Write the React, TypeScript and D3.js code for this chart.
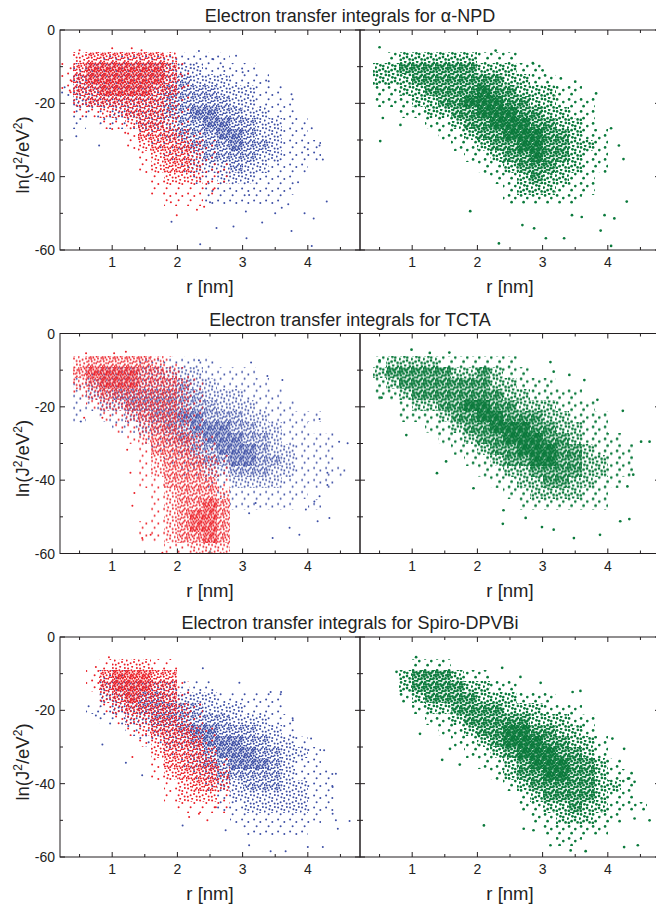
import * as d3 from 'd3';

// Three pairs of scatter panels: ln(J^2/eV^2) against r [nm].
// Point clouds are too dense to list point by point, so each cloud is kept as a
// density grid (cells 0.2 nm wide from r = 0.2 and 3 units tall
// from ln = 0 downwards; '.' empty, 1 sparse ... 4 saturated) plus its stray points.

const W = 656;
const H = 906;
const PANEL_W = 300;
const PANEL_H = 220;
const LEFT_X = 60;
const RIGHT_X = 360;
const ROW_TOPS = [30, 333.5, 637];

const R_RANGE: [number, number] = [0.2, 4.8];
const LN_RANGE: [number, number] = [-60, 0];
const X_MAJOR = [1, 2, 3, 4];
const X_MINOR = [0.5, 1.5, 2.5, 3.5, 4.5];
const Y_MAJOR = [0, -20, -40, -60];
const Y_MINOR = [-10, -30, -50];
const CELL_R = 0.2;
const CELL_LN = 3;

const TITLES = [
  'Electron transfer integrals for α-NPD',
  'Electron transfer integrals for TCTA',
  'Electron transfer integrals for Spiro-DPVBi',
];

const NPD_BLUE = [
  '.......................',
  '.......................',
  '...1111111111..........',
  '.12222222221111........',
  '.222222223222111.......',
  '12222222333322211......',
  '.22222223333322111.....',
  '.11122223344332211.....',
  '.1.1112223344332211....',
  '......1123334432211....',
  '.......1123334332111...',
  '........112333322111...',
  '.........1222322111....',
  '..........11222111.....',
  '...........1111111.....',
  '...........111111......',
];
const NPD_RED = [
  '.......................',
  '.......................',
  '.23333332..............',
  '1344444431.............',
  '1344444431.............',
  '1334444331.............',
  '.233333321.............',
  '.112233321.............',
  '...1123321.............',
  '.....133321............',
  '.....1233321...........',
  '......123321...........',
  '......1233211..........',
  '.......122211..........',
  '.......11111...........',
  '........111............',
];
const NPD_GREEN = [
  '.......................',
  '.......................',
  '..1222222111...........',
  '.2233333322211.........',
  '.22233333332211........',
  '.1122333343322211......',
  '.11122334443322111.....',
  '...112233444332211.....',
  '.....1123344433221.....',
  '......1123344433211....',
  '.......112334433221....',
  '........11233433211....',
  '.........1123332211....',
  '..........11232211.....',
  '...........1222111.....',
  '...........111111......',
];

const TCTA_BLUE = [
  '.......................',
  '.......................',
  '......111111...........',
  '..1222222221111........',
  '.122222223221111.......',
  '.1223333333222111......',
  '.11223333333222111.....',
  '.1.11223344333221111...',
  '....112233444332211....',
  '......112334443321111..',
  '.......11233444322111..',
  '........1123344332111..',
  '.........1122333221111.',
  '...........1122221111..',
  '............1111111....',
  '.............11111.1...',
];
const TCTA_RED = [
  '.......................',
  '.......................',
  '.23333321..............',
  '.344443321.............',
  '.2344433321............',
  '.1233333321............',
  '..122333321............',
  '...11233321............',
  '....1123321............',
  '.....1233321...........',
  '......133321...........',
  '......1233321..........',
  '......1233321..........',
  '......1133331..........',
  '.......123332..........',
  '.......123343..........',
  '.......123443..........',
  '......1123443..........',
  '......1123343..........',
  '........11222..........',
];
const TCTA_GREEN = [
  '.......................',
  '.......................',
  '.12222111111...........',
  '.233333223211..........',
  '.12333333322111........',
  '.1123333333221111......',
  '...122334433222111.....',
  '...1112334433322111....',
  '.....11233444332211....',
  '......11233444332111...',
  '.......11233444332111..',
  '........1123344332211..',
  '.........112233332211..',
  '..........1122332211...',
  '...........11222211....',
  '............1111111....',
];

const SPIRO_BLUE = [
  '.......................',
  '.......................',
  '.......................',
  '...11..................',
  '...222222111...........',
  '...22233222211111......',
  '..112233333222111......',
  '...112233333322211.....',
  '.....1122344333221.....',
  '......1122344433221....',
  '........112344433221...',
  '.........12334443211...',
  '..........12333332111..',
  '...........1223332211..',
  '............122222211..',
  '............112222211..',
  '.............1111111...',
  '..............11111....',
];
const SPIRO_RED = [
  '.......................',
  '.......................',
  '...122211..............',
  '..1344433..............',
  '..13444331.............',
  '...2343331.............',
  '...12333321............',
  '....1223321............',
  '.....1233321...........',
  '......123331...........',
  '.......23332...........',
  '.......133331..........',
  '.......123332..........',
  '........12332..........',
  '........12221..........',
  '.........1111..........',
];
const SPIRO_GREEN = [
  '.......................',
  '.......................',
  '....111................',
  '...2333211.............',
  '...233332211...........',
  '...123333222111........',
  '....1223333222111......',
  '.....1123333322211.....',
  '......112334433221.....',
  '.......112344433221....',
  '........11234443321....',
  '.........11234443321...',
  '..........12334433211..',
  '...........1233333221..',
  '............123333211..',
  '............1122322111.',
  '.............1122211...',
  '..............11111....',
  '...............11......',
];

// stray points outside the dense parts, [r, ln]
const NPD_BLUE_STRAY: [number, number][] = [
  [2.33, -5.7], [2.9, -7], [2.55, -8], [2.7, -10], [3.0, -11.5], [3.4, -14], [3.75, -17.5],
  [0.45, -29], [0.8, -31.5], [1.91, -52.3], [2.35, -58.4], [2.5, -47], [2.6, -54], [2.86, -53.6],
  [3.05, -49.5], [3.06, -56.8], [3.1, -45], [3.3, -52.5], [3.5, -50], [3.6, -48.5], [3.7, -47.5],
  [3.85, -41.5], [3.75, -54.8], [3.95, -50], [4.0, -32.5], [4.06, -26.8], [4.09, -51.4],
  [4.18, -31.5], [4.23, -35.3], [4.29, -46.8], [4.06, -58.9],
];
const NPD_RED_STRAY: [number, number][] = [
  [0.38, -14], [0.35, -16.5], [0.5, -5.5], [1.0, -5], [1.3, -5], [1.45, -5.5], [1.0, -27],
  [1.2, -28], [2.05, -12], [2.1, -15.5], [1.99, -50.5], [2.3, -49], [2.41, -48.2], [2.47, -41.4],
  [2.55, -43.5], [1.9, -47],
];
const NPD_GREEN_STRAY: [number, number][] = [
  [0.5, -4.7], [0.51, -30.3], [0.55, -24], [0.82, -25.9], [1.89, -49.4], [2.28, -5.6],
  [2.33, -58.2], [2.69, -53.2], [2.87, -54.1], [3.05, -56.8], [3.33, -56.8], [3.45, -50.5],
  [3.6, -51], [3.89, -54.7], [3.95, -50.5], [4.1, -51.4], [4.05, -58.9], [4.29, -46.8],
  [4.24, -35.2], [4.17, -31.5], [4.05, -26.8], [3.82, -17.3], [3.5, -14.1], [3.28, -13.2],
  [2.85, -9], [3.0, -11],
];

const TCTA_BLUE_STRAY: [number, number][] = [
  [0.52, -24], [2.33, -7.3], [3.13, -7.9], [3.38, -11.6], [3.61, -12.7], [4.18, -23.3],
  [4.48, -29.5], [4.61, -29.9], [4.3, -38], [4.3, -41.3], [4.18, -44.4], [4.1, -45.8],
  [3.97, -48], [4.33, -50.3], [4.15, -51.2], [3.87, -54.9], [3.46, -55.8], [3.72, -53],
  [3.1, -49], [3.2, -46.2],
];
const TCTA_RED_STRAY: [number, number][] = [
  [0.6, -5.4], [1.03, -5.4], [1.21, -5], [0.57, -23], [0.85, -23], [1.23, -31.7], [1.28, -38],
  [1.34, -43.5], [1.31, -47], [1.46, -55.8], [1.59, -54.9], [1.77, -59.8],
];
const TCTA_GREEN_STRAY: [number, number][] = [
  [0.5, -7.3], [0.53, -17.5], [0.99, -4.4], [1.27, -5.3], [1.57, -5.2], [0.91, -27.7],
  [1.38, -38.1], [1.52, -34.9], [1.94, -42.2], [2.4, -48.2], [2.39, -51.9], [2.74, -50.3],
  [2.99, -52.8], [3.17, -53.5], [3.48, -55.8], [3.88, -54.9], [4.19, -51.2], [4.33, -50.6],
  [4.3, -41.7], [4.39, -38.5], [4.51, -29.5], [4.64, -29.5], [4.23, -21.1], [3.84, -18.1],
  [3.64, -12.7], [3.41, -11.3], [3.17, -10.4], [3.12, -7.8],
];

const SPIRO_BLUE_STRAY: [number, number][] = [
  [0.75, -21.4], [0.85, -29.3], [1.21, -34.3], [1.46, -37.7], [2.39, -8.5], [2.95, -12.5],
  [3.43, -15], [3.59, -15], [3.77, -22.7], [4.05, -27.7], [4.25, -30.9], [4.43, -37.3],
  [4.38, -40.9], [4.38, -48.2], [4.43, -50], [4.64, -50.2], [4.46, -52.3], [4.23, -57.3],
  [4.0, -57.3], [3.66, -58.4], [3.43, -58.4], [3.1, -56.8], [2.74, -52.7], [2.08, -51.4],
];
const SPIRO_RED_STRAY: [number, number][] = [
  [0.95, -5.5], [0.75, -8.2], [1.31, -32.7], [2.18, -49.1], [2.33, -48.2], [2.46, -50],
  [2.59, -46.4], [2.77, -38.2],
];
const SPIRO_GREEN_STRAY: [number, number][] = [
  [0.76, -9.5], [1.06, -5.5], [1.12, -26.4], [1.46, -33.5], [1.58, -30.5], [1.73, -34.8],
  [2.1, -51.4], [2.38, -8.4], [2.66, -10.9], [2.97, -12.5], [3.46, -15], [3.58, -14.7],
  [4.07, -27.7], [4.25, -30.5], [4.31, -38.6], [4.41, -39.5], [4.41, -49.5], [4.64, -50],
  [4.46, -56.8], [4.25, -57.3], [3.66, -58.4], [3.43, -58.2], [3.12, -56.8], [2.71, -52.3],
  [2.86, -52.7],
];

type Kind = 'blue' | 'red' | 'green';

const STYLES: Record<Kind, { color: string; r: number; tint: number[]; shift: [number, number]; specks: boolean }> = {
  blue: { color: '#3d4fa5', r: 1.0, tint: [0, 0, 0, 0, 0.12], shift: [0, 0], specks: false },
  red: { color: '#eb1f27', r: 1.0, tint: [0, 0, 0, 0, 0.15], shift: [6, 5], specks: false },
  green: { color: '#0b7a3c', r: 1.35, tint: [0, 0, 0, 0.1, 0.55], shift: [3, 7], specks: true },
};

// texture of one 12px tile, ordered so that every prefix is spread out
const TILE = 12;
const SPOTS: [number, number][] = [
  [2.1, 2.4], [8.3, 5.1], [4.6, 9.2], [10.6, 10.4], [6.2, 0.8],
  [0.7, 6.6], [10.9, 1.9], [5.4, 4.3], [1.8, 10.8], [8.0, 8.1], [3.3, 6.9],
  [7.5, 11.2], [11.3, 7.4], [4.1, 0.5], [0.6, 3.9], [9.6, 3.4], [2.9, 4.5], [6.6, 6.1], [1.2, 8.5], [9.2, 11.8],
  [5.7, 8.4], [11.8, 5.0], [3.9, 11.6], [7.4, 2.9], [0.2, 0.9], [6.9, 9.7], [10.2, 8.9], [3.6, 2.9],
  [8.8, 0.4], [1.4, 5.3], [5.0, 10.8], [11.5, 11.0],
];
const SPECKS: [number, number][] = [[4.2, 2.7], [9.8, 7.0], [1.5, 9.6]];
const LEVEL_DOTS = [0, 3, 10, 20, 32];

const AXIS = '#231f20';
const FONT = '"Liberation Sans", Arial, Helvetica, sans-serif';

const xs = d3.scaleLinear().domain(R_RANGE).range([0, PANEL_W]);
const ys = d3.scaleLinear().domain(LN_RANGE).range([PANEL_H, 0]);

function Patterns() {
  return (
    <defs>
      {(Object.keys(STYLES) as Kind[]).flatMap((kind) => {
        const s = STYLES[kind];
        return [1, 2, 3, 4].map((lv) => (
          <pattern
            key={kind + lv}
            id={`cloud-${kind}-${lv}`}
            patternUnits="userSpaceOnUse"
            width={TILE}
            height={TILE}
            patternTransform={`translate(${s.shift[0]},${s.shift[1]})`}
          >
            {s.tint[lv] > 0 && <rect width={TILE} height={TILE} fill={s.color} fillOpacity={s.tint[lv]} />}
            {SPOTS.slice(0, LEVEL_DOTS[lv]).map(([px, py], i) => (
              <circle key={i} cx={px} cy={py} r={s.r} fill={s.color} />
            ))}
            {lv === 4 && s.specks && SPECKS.map(([px, py], i) => (
              <circle key={'s' + i} cx={px} cy={py} r={0.55} fill="#fff" />
            ))}
          </pattern>
        ));
      })}
    </defs>
  );
}

function Cloud({ grid, stray, kind }: { grid: string[]; stray: [number, number][]; kind: Kind }) {
  const s = STYLES[kind];
  return (
    <g>
      {grid.flatMap((row, j) =>
        Array.from(row).map((ch, i) => {
          if (ch === '.') return null;
          const r0 = R_RANGE[0] + i * CELL_R;
          const l0 = -j * CELL_LN;
          return (
            <rect
              key={`${j}-${i}`}
              x={xs(r0)}
              y={ys(l0)}
              width={xs(r0 + CELL_R) - xs(r0)}
              height={ys(l0 - CELL_LN) - ys(l0)}
              fill={`url(#cloud-${kind}-${ch})`}
              shapeRendering="crispEdges"
            />
          );
        }),
      )}
      {stray.map(([r, ln], i) => (
        <circle key={'p' + i} cx={xs(r)} cy={ys(ln)} r={s.r} fill={s.color} />
      ))}
    </g>
  );
}

function Frame({ yLabels }: { yLabels: boolean }) {
  const xTicks = [...X_MAJOR.map((v) => ({ v, len: 5 })), ...X_MINOR.map((v) => ({ v, len: 3 }))];
  const yTicks = [...Y_MAJOR.map((v) => ({ v, len: 5 })), ...Y_MINOR.map((v) => ({ v, len: 3 }))];
  return (
    <g>
      <g stroke={AXIS} strokeWidth={1} fill="none">
        <rect x={0} y={0} width={PANEL_W} height={PANEL_H} />
        {xTicks.map(({ v, len }) => (
          <g key={'x' + v}>
            <line x1={xs(v)} x2={xs(v)} y1={PANEL_H} y2={PANEL_H - len} />
            <line x1={xs(v)} x2={xs(v)} y1={0} y2={len} />
          </g>
        ))}
        {yTicks.map(({ v, len }) => (
          <g key={'y' + v}>
            <line x1={0} x2={len} y1={ys(v)} y2={ys(v)} />
            <line x1={PANEL_W} x2={PANEL_W - len} y1={ys(v)} y2={ys(v)} />
          </g>
        ))}
      </g>
      <g fontFamily={FONT} fontSize={14} fill="#222">
        {X_MAJOR.map((v) => (
          <text key={'xl' + v} x={xs(v)} y={PANEL_H + 17} textAnchor="middle">
            {v}
          </text>
        ))}
        {yLabels &&
          Y_MAJOR.map((v) => (
            <text key={'yl' + v} x={-5} y={ys(v)} dy="0.36em" textAnchor="end">
              {v}
            </text>
          ))}
      </g>
      <text x={PANEL_W / 2} y={PANEL_H + 43} textAnchor="middle" fontFamily={FONT} fontSize={18.5} fill="#222">
        r [nm]
      </text>
    </g>
  );
}

const ROWS = [
  { blue: NPD_BLUE, red: NPD_RED, green: NPD_GREEN, blueS: NPD_BLUE_STRAY, redS: NPD_RED_STRAY, greenS: NPD_GREEN_STRAY },
  { blue: TCTA_BLUE, red: TCTA_RED, green: TCTA_GREEN, blueS: TCTA_BLUE_STRAY, redS: TCTA_RED_STRAY, greenS: TCTA_GREEN_STRAY },
  { blue: SPIRO_BLUE, red: SPIRO_RED, green: SPIRO_GREEN, blueS: SPIRO_BLUE_STRAY, redS: SPIRO_RED_STRAY, greenS: SPIRO_GREEN_STRAY },
];

export default function App() {
  return (
    <div style={{ position: 'absolute', left: 0, top: 0 }}>
      <svg width={W} height={H} viewBox={`0 0 ${W} ${H}`} style={{ display: 'block', background: '#fff' }}>
        <Patterns />
        {ROWS.map((row, k) => {
          const top = ROW_TOPS[k];
          return (
            <g key={k}>
              <text x={350} y={top - 8} textAnchor="middle" fontFamily={FONT} fontSize={18} fill="#222">
                {TITLES[k]}
              </text>
              <text
                transform={`translate(29,${top + PANEL_H / 2 + 15}) rotate(-90)`}
                textAnchor="middle"
                fontFamily={FONT}
                fontSize={18.5}
                fill="#222"
              >
                ln(J<tspan dy={-7} fontSize={12}>2</tspan>
                <tspan dy={7}>/eV</tspan>
                <tspan dy={-7} fontSize={12}>2</tspan>
                <tspan dy={7}>)</tspan>
              </text>
              <g transform={`translate(${LEFT_X},${top})`}>
                <Cloud grid={row.blue} stray={row.blueS} kind="blue" />
                <Cloud grid={row.red} stray={row.redS} kind="red" />
                <Frame yLabels />
              </g>
              <g transform={`translate(${RIGHT_X},${top})`}>
                <Cloud grid={row.green} stray={row.greenS} kind="green" />
                <Frame yLabels={false} />
              </g>
            </g>
          );
        })}
      </svg>
    </div>
  );
}
